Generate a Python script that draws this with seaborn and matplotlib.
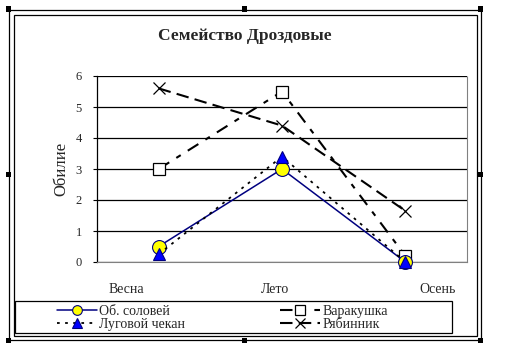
import numpy as np
import pandas as pd
import matplotlib
matplotlib.use("Agg")
import matplotlib.pyplot as plt
import matplotlib.transforms as mtransforms
from matplotlib.patches import Rectangle
from matplotlib.lines import Line2D
import seaborn as sns

# ---- data ----
seasons = ["Весна", "Лето", "Осень"]
solovey = [0.5, 3.0, 0.0]
varakushka = [3.0, 5.5, 0.2]
chekan = [0.25, 3.4, 0.0]
ryabinnik = [5.6, 4.4, 1.65]
y_ticks = [0, 1, 2, 3, 4, 5, 6]
title = "Семейство Дроздовые"
ylabel = "Обилие"

sns.set_theme(style="white")
plt.rcParams["font.family"] = ["Liberation Serif", "DejaVu Serif"]

W, H = 506, 354
fig = plt.figure(figsize=(W / 100, H / 100), dpi=100)
fig.patch.set_facecolor("white")

def fx(px):
    return px / W

def fy(py):
    return 1 - py / H

L, R, T, B = 97, 467, 76, 262
ax = fig.add_axes([fx(L), fy(B), fx(R) - fx(L), fy(T) - fy(B)])
ax.set_facecolor("white")

x = np.arange(len(seasons))
series = [
    dict(name="Об. соловей", y=solovey, color="#000080", ls="-", lw=1.1,
         marker="o", mfc="#FFFF00", mec="#000080", ms=10, mew=0.8, z=5),
    dict(name="Луговой чекан", y=chekan, color="black", ls=(0, (1.5, 3)), lw=1.3,
         marker="^", mfc="#0000FF", mec="#000080", ms=9, mew=0.8, z=6),
    dict(name="Варакушка", y=varakushka, color="black", ls=(0, (6, 4, 2.5, 4)), lw=1.5,
         marker="s", mfc="white", mec="black", ms=8.5, mew=0.9, z=4),
    dict(name="Рябинник", y=ryabinnik, color="black", ls=(0, (6, 3)), lw=1.5,
         marker="x", mfc="none", mec="black", ms=9, mew=0.9, z=3),
]

handles = []
for s in series:
    sns.lineplot(x=x, y=s["y"], ax=ax, color=s["color"], linestyle=s["ls"],
                 linewidth=s["lw"], marker=s["marker"], markerfacecolor=s["mfc"],
                 markeredgecolor=s["mec"], markersize=s["ms"], markeredgewidth=s["mew"],
                 sort=False, zorder=s["z"], legend=False, clip_on=False)
    handles.append(Line2D([], [], color=s["color"], linestyle=s["ls"], linewidth=s["lw"],
                          marker=s["marker"], markerfacecolor=s["mfc"],
                          markeredgecolor=s["mec"], markersize=7, markeredgewidth=s["mew"],
                          label=s["name"]))

ax.set_xlim(-0.5, len(seasons) - 0.5)
ax.set_ylim(0, 6)
ax.set_yticks(y_ticks)
ax.set_yticklabels([str(v) for v in y_ticks], fontsize=9)
ax.set_xticks(x)
ax.set_xticklabels(seasons, fontsize=10)
ax.yaxis.grid(True, color="black", linewidth=0.9)
ax.set_axisbelow(True)
ax.tick_params(axis="y", which="major", left=True, length=3, width=0.8, color="black", pad=8)
ax.tick_params(axis="x", which="major", bottom=False, pad=9)

# Excel-style spread of category labels
offsets = [-32, -7, 32]
for lab, dx in zip(ax.get_xticklabels(), offsets):
    lab.set_transform(lab.get_transform() + mtransforms.ScaledTranslation(dx / 100, 0, fig.dpi_scale_trans))

ax.spines["top"].set_visible(False)
ax.spines["left"].set_color("black")
ax.spines["left"].set_linewidth(0.9)
for side in ["right", "bottom"]:
    ax.spines[side].set_color("#808080")
    ax.spines[side].set_linestyle((0, (1, 1)))
    ax.spines[side].set_linewidth(0.8)

ax.set_ylabel(ylabel, fontsize=12)
ax.yaxis.set_label_coords((69 - L) / (R - L), 0.5)
ax.set_xlabel("")

fig.text(fx(245), fy(36), title, ha="center", va="center", fontsize=12.5, fontweight="bold")

leg = fig.legend(handles=handles, loc="upper left",
                 bbox_to_anchor=(fx(55), fy(303)),
                 ncol=2, fontsize=10, frameon=False,
                 borderpad=0.15, labelspacing=0.0, handlelength=2.9, handletextpad=0.15,
                 columnspacing=6.8, borderaxespad=0)

# legend box, chart-area frame (double border) and selection handles
def rect_px(x0, y0, x1, y1, **kw):
    fig.add_artist(Rectangle((fx(x0), fy(y1)), fx(x1) - fx(x0), fy(y0) - fy(y1),
                             transform=fig.transFigure, fill=False, **kw))

rect_px(15.5, 301.5, 452, 333, edgecolor="black", linewidth=0.9)
rect_px(9.5, 9.5, 481, 340, edgecolor="black", linewidth=0.9)
rect_px(14.5, 14.5, 477, 336, edgecolor="black", linewidth=0.9)
for (hx, hy) in [(9, 9), (245, 9), (481, 9), (9, 175), (481, 175), (9, 340), (245, 340), (481, 340)]:
    fig.add_artist(Rectangle((fx(hx - 2.5), fy(hy + 2.5)), fx(5), 5 / H,
                             transform=fig.transFigure, facecolor="black", edgecolor="none"))

fig.savefig("out.png", dpi=100, facecolor="white")
